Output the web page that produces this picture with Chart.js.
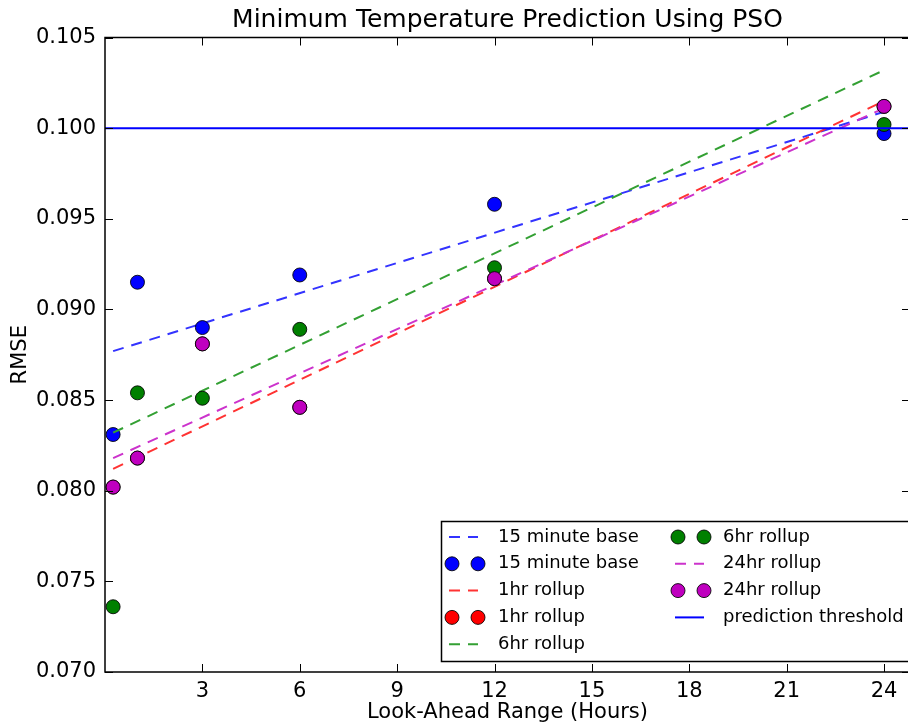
<!DOCTYPE html>
<html>
<head>
<meta charset="utf-8">
<script src="https://cdn.jsdelivr.net/npm/chart.js@4"></script>
<style>
  html, body { margin: 0; padding: 0; background: #fff; overflow: hidden; }
  #wrap { width: 912px; height: 728px; }
</style>
</head>
<body>
<div id="wrap"><canvas id="psoChart" width="912" height="728"></canvas></div>
<script>
// look-ahead hours and RMSE per rollup
const hours = [0.25, 1, 3, 6, 12, 24];
const base15 = [0.0831, 0.0915, 0.0890, 0.0919, 0.0958, 0.0997];
const rollup1 = [0.0802, 0.0818, 0.0881, 0.0846, 0.0917, 0.1012];
const rollup6 = [0.0736, 0.0854, 0.0851, 0.0889, 0.0923, 0.1002];
const rollup24 = [0.0802, 0.0818, 0.0881, 0.0846, 0.0917, 0.1012];

// fitted trend lines (ends)
const fitHours = [0.25, 24];
const fit15 = [0.0877, 0.1009];
const fit1 = [0.0812, 0.1015];
const fit6 = [0.0832, 0.1032];
const fit24 = [0.0818, 0.1011];

const thresholdHours = [0, 24.8];
const threshold = [0.1, 0.1];

const xTicks = [3, 6, 9, 12, 15, 18, 21, 24];
const yTicks = [0.070, 0.075, 0.080, 0.085, 0.090, 0.095, 0.100, 0.105];

const FONT = '"DejaVu Sans", "Liberation Sans", sans-serif';
const toPts = (xs, ys) => xs.map((v, i) => ({ x: v, y: ys[i] }));

function trend(label, xs, ys, color) {
  return { label, data: toPts(xs, ys), showLine: true, borderColor: color,
    borderWidth: 2, borderDash: [11, 8], pointRadius: 0 };
}
function dots(label, xs, ys, color) {
  return { label, data: toPts(xs, ys), showLine: false, backgroundColor: color,
    borderColor: 'rgba(0,0,0,0.85)', borderWidth: 1, pointRadius: 7 };
}

const datasets = [
  trend('15 minute base', fitHours, fit15, '#3333ff'),
  dots('15 minute base', hours, base15, '#0000ff'),
  trend('1hr rollup', fitHours, fit1, '#ff3333'),
  dots('1hr rollup', hours, rollup1, '#ff0000'),
  trend('6hr rollup', fitHours, fit6, '#33a033'),
  dots('6hr rollup', hours, rollup6, '#008000'),
  trend('24hr rollup', fitHours, fit24, '#cc33cc'),
  dots('24hr rollup', hours, rollup24, '#bf00bf'),
  { label: 'prediction threshold', data: toPts(thresholdHours, threshold), showLine: true,
    borderColor: '#0000ff', borderWidth: 2, pointRadius: 0 }
];
// matplotlib order: later series on top
datasets.forEach((ds, i) => { ds.order = datasets.length - i; });

const framePlugin = {
  id: 'frame',
  afterDatasetsDraw(chart) {
    const { ctx, chartArea: a, scales: { x, y } } = chart;
    ctx.save();
    ctx.strokeStyle = '#000';
    ctx.lineWidth = 1;
    ctx.beginPath();
    xTicks.forEach((v) => {
      const px = Math.round(x.getPixelForValue(v)) + 0.5;
      ctx.moveTo(px, a.bottom); ctx.lineTo(px, a.bottom - 8);
      ctx.moveTo(px, a.top); ctx.lineTo(px, a.top + 8);
    });
    yTicks.forEach((v) => {
      const py = Math.round(y.getPixelForValue(v)) + 0.5;
      ctx.moveTo(a.left, py); ctx.lineTo(a.left + 8, py);
      ctx.moveTo(a.right, py); ctx.lineTo(a.right - 8, py);
    });
    ctx.stroke();
    ctx.lineWidth = 1.5;
    ctx.strokeRect(a.left, a.top, a.right - a.left, a.bottom - a.top);

    ctx.fillStyle = '#000';
    ctx.font = '25px ' + FONT;
    ctx.textAlign = 'center';
    ctx.textBaseline = 'middle';
    ctx.fillText('Minimum Temperature Prediction Using PSO', (a.left + a.right) / 2, 20);
    ctx.restore();
  },
  afterDraw(chart) {
    const ctx = chart.ctx;
    const sets = chart.data.datasets;
    ctx.save();
    ctx.fillStyle = '#fff';
    ctx.strokeStyle = '#000';
    ctx.lineWidth = 1.5;
    ctx.fillRect(441.5, 521.5, 480, 140);
    ctx.strokeRect(441.5, 521.5, 480, 140);
    ctx.font = '18px ' + FONT;
    ctx.textBaseline = 'middle';
    ctx.textAlign = 'left';
    sets.forEach((ds, i) => {
      const col = i < 5 ? 0 : 1;
      const row = col ? i - 5 : i;
      const y = 537 + row * 26.8;
      const x0 = col ? 678 : 452;
      const x1 = x0 + 26;
      if (ds.showLine) {
        ctx.setLineDash(ds.borderDash || []);
        ctx.strokeStyle = ds.borderColor;
        ctx.lineWidth = ds.borderWidth;
        ctx.beginPath();
        ctx.moveTo(x0 - 3, y); ctx.lineTo(x1, y);
        ctx.stroke();
        ctx.setLineDash([]);
      } else {
        [x0, x1].forEach((cx) => {
          ctx.beginPath();
          ctx.arc(cx, y, 7, 0, Math.PI * 2);
          ctx.fillStyle = ds.backgroundColor;
          ctx.fill();
          ctx.strokeStyle = ds.borderColor;
          ctx.lineWidth = 1;
          ctx.stroke();
        });
      }
      ctx.fillStyle = '#000';
      ctx.fillText(ds.label, col ? 723 : 498, y);
    });
    ctx.restore();
  }
};

new Chart(document.getElementById('psoChart'), {
  type: 'scatter',
  data: { datasets },
  options: {
    responsive: false,
    animation: false,
    layout: { autoPadding: false, padding: { top: 37.5, right: 2, left: 0, bottom: 0 } },
    plugins: { legend: { display: false }, tooltip: { enabled: false } },
    scales: {
      x: {
        type: 'linear', min: 0, max: 24.8,
        grid: { display: false, drawTicks: false }, border: { display: false },
        afterBuildTicks: (s) => { s.ticks = xTicks.map((v) => ({ value: v })); },
        afterFit: (s) => { s.height = 56; },
        ticks: { color: '#000', font: { family: FONT, size: 21 }, padding: 7, maxRotation: 0 },
        title: { display: true, text: 'Look-Ahead Range (Hours)', color: '#000',
          font: { family: FONT, size: 21 }, padding: { top: 0, bottom: 3 } }
      },
      y: {
        type: 'linear', min: 0.07, max: 0.105,
        grid: { display: false, drawTicks: false }, border: { display: false },
        afterBuildTicks: (s) => { s.ticks = yTicks.map((v) => ({ value: v })); },
        afterFit: (s) => { s.width = 105; },
        ticks: { color: '#000', font: { family: FONT, size: 21 }, padding: 9,
          callback: (v) => v.toFixed(3) },
        title: { display: true, text: 'RMSE', color: '#000',
          font: { family: FONT, size: 21 }, padding: { top: 8, bottom: 0 } }
      }
    }
  },
  plugins: [framePlugin]
});
</script>
</body>
</html>
